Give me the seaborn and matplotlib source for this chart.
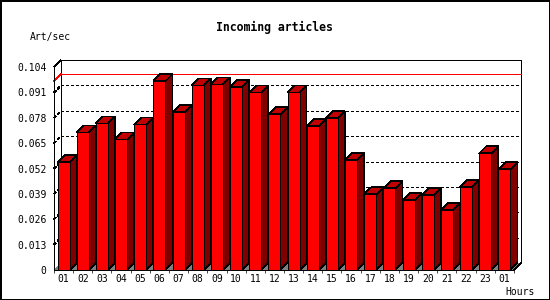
import numpy as np
import pandas as pd
import matplotlib
matplotlib.use("Agg")
import matplotlib.pyplot as plt
import seaborn as sns
from matplotlib.patches import Polygon, Rectangle

# ---- data ----
hours = ["01", "02", "03", "04", "05", "06", "07", "08", "09", "10", "11", "12",
         "13", "14", "15", "16", "17", "18", "19", "20", "21", "22", "23", "01"]
rate = [0.0553, 0.0705, 0.0751, 0.0669, 0.0746, 0.0968, 0.0808, 0.0946,
        0.0951, 0.0936, 0.0910, 0.0798, 0.0910, 0.0736, 0.0777, 0.0562,
        0.0388, 0.0419, 0.0357, 0.0383, 0.0306, 0.0424, 0.0598, 0.0516]
y_ticks = [0, 0.013, 0.026, 0.039, 0.052, 0.065, 0.078, 0.091, 0.104]
y_tick_labels = ["0", "0.013", "0.026", "0.039", "0.052", "0.065", "0.078", "0.091", "0.104"]
title = "Incoming articles"
y_label = "Art/sec"
x_label = "Hours"

# ---- style ----
sns.set_theme(style="white")
plt.rcParams['font.family'] = ['DejaVu Sans Mono']
plt.rcParams['lines.antialiased'] = False
plt.rcParams['patch.antialiased'] = False

LW = 0.5  # renders as 1 px without antialiasing

W, H = 550, 300
fig = plt.figure(figsize=(W / 100, H / 100), dpi=100, facecolor="white")
ax_l, ax_r, ax_b, ax_t = 54, 514, 270, 67
ax = fig.add_axes([ax_l / W, 1 - ax_b / H, (ax_r - ax_l) / W, (ax_b - ax_t) / H])
ax.set_facecolor("white")

n = len(hours)
ymax = y_ticks[-1]
df = pd.DataFrame({"slot": list(range(n)), "rate": rate})
sns.barplot(data=df, x="slot", y="rate", color="#ff0000", saturation=1,
            width=0.63, edgecolor="black", linewidth=LW, ax=ax, zorder=5)
ax.set_xlim(-0.5, n - 0.5)
ax.set_ylim(0, ymax)

# 3D depth offset (7 px) in data units
depth_px = 7
dx = depth_px * n / (ax_r - ax_l)
dy = depth_px * ymax / (ax_b - ax_t)
x0a, x1a = -0.5, n - 0.5

# floor
ax.add_patch(Polygon([(x0a, 0), (x1a, 0), (x1a + dx, dy), (x0a + dx, dy)],
                     closed=True, facecolor="#808080", edgecolor="none",
                     clip_on=False, zorder=1, antialiased=False))
# back wall frame
lk = dict(color="black", lw=LW, clip_on=False, zorder=2, solid_capstyle="butt",
          antialiased=False)
ax.plot([x0a + dx, x1a + dx], [ymax + dy, ymax + dy], snap=True, **lk)
ax.plot([x0a + dx, x0a + dx], [dy, ymax + dy], snap=True, **lk)
ax.plot([x1a + dx, x1a + dx], [dy, ymax + dy], snap=True, **lk)
ax.plot([x0a, x0a + dx], [ymax, ymax + dy], **lk)
ax.plot([x1a, x1a + dx], [0, dy], **lk)

# dotted grid on back wall (horizontal part + connector on the side wall)
for v in y_ticks[1:-1]:
    ax.plot([x0a + dx, x1a + dx], [v + dy, v + dy], color="black", snap=True,
            lw=LW, linestyle=(0, (4, 4)), clip_on=False, zorder=2,
            antialiased=False)
    ax.plot([x0a, x0a + dx], [v, v + dy], color="black",
            lw=LW, linestyle=(0, (4, 4)), clip_on=False, zorder=2,
            antialiased=False)

# red max line
vmax = max(rate)
ax.plot([x0a + dx, x1a + dx], [vmax + dy, vmax + dy], color="#ff0000", snap=True,
        lw=LW, clip_on=False, zorder=2.5, antialiased=False)
ax.plot([x0a, x0a + dx], [vmax, vmax + dy], color="#ff0000",
        lw=LW, clip_on=False, zorder=2.5, antialiased=False)

# bar sides and tops
for p in list(ax.patches):
    if not isinstance(p, Rectangle):
        continue
    p.set_antialiased(False)
    bx, bw, bh = p.get_x(), p.get_width(), p.get_height()
    xr = bx + bw
    ax.add_patch(Polygon([(xr, 0), (xr + dx, dy), (xr + dx, bh + dy), (xr, bh)],
                         closed=True, facecolor="#800000", edgecolor="black",
                         linewidth=LW, clip_on=False, zorder=4, antialiased=False))
    ax.add_patch(Polygon([(bx, bh), (bx + dx, bh + dy), (xr + dx, bh + dy), (xr, bh)],
                         closed=True, facecolor="#c00000", edgecolor="black",
                         linewidth=LW, clip_on=False, zorder=4, antialiased=False))

# axes spines / ticks
for s in ["top", "right"]:
    ax.spines[s].set_visible(False)
for s in ["left", "bottom"]:
    ax.spines[s].set_color("black")
    ax.spines[s].set_linewidth(LW)
    ax.spines[s].set_zorder(6)
    ax.spines[s].set_antialiased(False)

ax.set_yticks(y_ticks)
ax.set_yticklabels(y_tick_labels)
ax.set_xticks(np.arange(-0.5, n, 1.0))
ax.set_xticklabels([])
ax.set_xticks(np.arange(n), minor=True)
ax.set_xticklabels(hours, minor=True)
ax.tick_params(axis="y", which="major", direction="out", length=3, width=LW,
               color="black", labelsize=7, pad=2.5, labelcolor="black")
ax.tick_params(axis="x", which="major", direction="out", length=2.5, width=LW,
               color="black", bottom=True)
ax.tick_params(axis="x", which="minor", length=0, labelsize=7, pad=3,
               labelcolor="black", bottom=True)
ax.set_xlabel("")
ax.set_ylabel("")

# texts
fig.text(274 / W, 1 - 27 / H, title, ha="center", va="center",
         fontsize=8.3, fontweight="bold", color="black")
fig.text(30 / W, 1 - 37 / H, y_label, ha="left", va="center",
         fontsize=7, color="black")
fig.text(505 / W, 1 - 292 / H, x_label, ha="left", va="center",
         fontsize=7, color="black")

# outer border
fig.patches.append(Rectangle((0, 0), 1, 1, transform=fig.transFigure, fill=False,
                             edgecolor="black", linewidth=1.0, zorder=10,
                             antialiased=False))

fig.savefig("out.png", dpi=100, facecolor="white")
